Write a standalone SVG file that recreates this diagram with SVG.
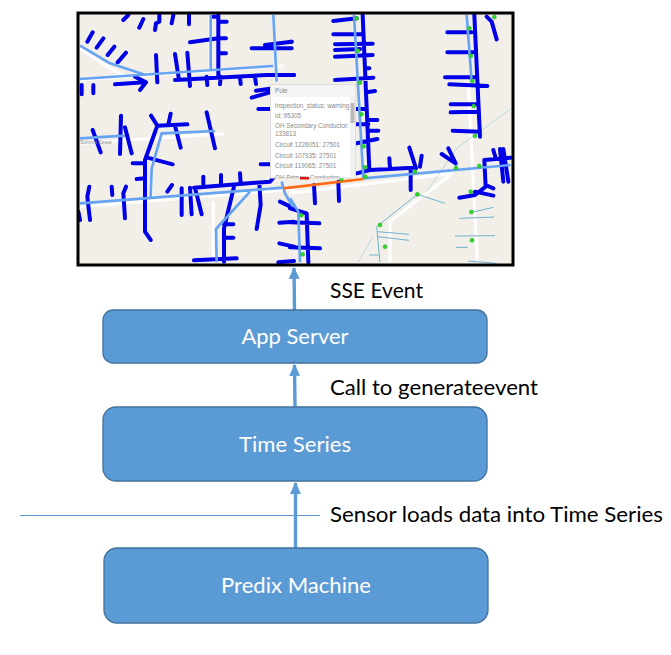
<svg xmlns="http://www.w3.org/2000/svg" width="671" height="655" viewBox="0 0 671 655">
<style>
.node{fill:#5b9bd5;stroke:#41719c;stroke-width:1.3}
.nl{font-family:Lato,"Liberation Sans",sans-serif;font-size:22px;fill:#fff;text-anchor:middle}
.el{font-family:Lato,"Liberation Sans",sans-serif;font-size:22px;fill:#000}
.conn{stroke:#5b9bd5;stroke-width:3.4;fill:none}
.d{fill:none;stroke:#0000e6;stroke-width:12;stroke-linecap:round;stroke-linejoin:round}
.l{fill:none;stroke:#66a3f2;stroke-width:8;stroke-linejoin:round}
.w{fill:none;stroke:#fff;stroke-width:9}
.t{fill:none;stroke:#6fb2cf;stroke-width:3}
.g{fill:#22dd22;stroke:#3a9a3a;stroke-width:1.5}
.p{font-family:"Liberation Sans",sans-serif;font-size:6.3px;fill:#8a8a8a}
</style>
<defs>
<clipPath id="mc"><rect x="78" y="13" width="435" height="252"/></clipPath>
<clipPath id="pc"><rect x="271" y="85" width="79" height="93"/></clipPath>
<filter id="soft" x="-5%" y="-5%" width="110%" height="110%"><feGaussianBlur stdDeviation="0.35"/></filter>
<marker id="ah" markerWidth="12" markerHeight="14" refX="10" refY="5" orient="auto" markerUnits="userSpaceOnUse" viewBox="0 0 11 10"><path d="M0 0L11 5L0 10z" fill="#5b9bd5"/></marker>
</defs>
<g id="map">
<rect x="78" y="13" width="435" height="252" fill="#f2efe9"/>
<g clip-path="url(#mc)"><g filter="url(#soft)">
<g transform="translate(70 5) scale(.33333)">
<path class="w" d="M30 130L120 190L170 218M30 225L640 182M30 415L460 386M30 605L680 552M420 30V190M610 30L620 230M245 460V582M430 590V772"/>
<path class="d" d="M160 45L175 30M208 68L220 42M255 75L258 55L268 50V30M305 55L310 30M357 58V30M430 35H445M445 30V215M445 50H470M360 112L445 100H468M445 145H468M52 110L68 82M80 128L100 100M113 150L133 125M143 172L168 143M258 150L262 232M315 147L327 225M352 143L360 243M315 225L590 210H672M410 215L412 240M452 215L450 238M510 215L512 237M555 215L558 237M545 130H665M585 120L665 110M135 238L225 232M195 215L228 232L210 255M35 240V268M70 240V265M545 278L600 262M558 257L610 250M565 312H605M243 332L262 362M302 326L295 358M262 362L352 358M262 362L225 465V680L242 705M188 475H225M200 522L225 520M232 458L308 478M315 362L332 428M410 322L435 430M68 375L92 442M153 332L150 447M165 367L185 445M125 545L127 570M168 545L160 565L165 640M58 545L52 575L60 645M25 620L30 645M292 560L306 540M335 550V630M360 548L365 628M375 548L395 628M372 548L600 530L610 518M400 515V545M453 510V540M510 505L512 535M492 545L462 670V770M568 535L572 600L560 672M462 658H490M462 698H490M372 766L500 760M630 590L672 610M628 653L672 650M628 715L672 725M625 772L672 768M572 478H600"/>
<path class="l" d="M30 122L120 175L220 208M30 222L610 183M422 30V195M610 30L620 230M30 400L165 392M435 378L275 385L245 490L242 578M30 595L640 548M540 560L438 672L440 772M635 530L645 565L672 612"/>
</g>
<g transform="translate(290 5) scale(.33333)">
<path class="w" d="M0 565L490 505M535 235L562 772M480 510L300 650V772"/>
<path fill="none" stroke="#a9d3dc" stroke-width="2.5" d="M662 312L500 430L410 560M248 695L205 772"/>
<path class="t" d="M382 568L260 665L270 772M382 568L465 595M262 680L357 688M262 695L357 706M238 750H270M545 622L610 607M508 640L612 636M495 693L615 692M497 727H533M533 768L620 775"/>
<path class="d" d="M130 48L200 40M218 30L238 495M130 88H215M135 118L248 116M135 135L210 132M135 155L248 150M225 190H238M135 225L250 218M230 262L255 258M198 312H230M200 358H235M235 345H262M235 377H265M200 415L262 402M200 505L240 495L370 488M298 460L300 490M358 428L378 490M395 452L390 485M362 490V555M475 430L497 475M455 447L497 475M72 540L75 595M145 530L147 588M553 30L570 395M472 82H545M472 142H555M465 217H555M478 238L592 243M482 298H565M482 322L565 320M488 377L570 380M590 35L605 50L620 103M583 465L662 458M583 465L587 545L555 570L508 578M610 435L618 462M630 432L640 530M640 432L655 530M587 540L610 550M555 560L610 572M0 610L50 625L55 772M0 652L88 655M0 727L90 730M0 210H12M0 110H5"/>
<path class="l" d="M192 30L220 520M530 30L545 230M220 520L662 480M0 580L25 620L30 772"/>
<path fill="none" stroke="#ff6a13" stroke-width="8" d="M-20 550L220 522"/>
<g class="g"><circle cx="200" cy="40" r="6"/><circle cx="204" cy="137" r="6"/><circle cx="210" cy="233" r="6"/><circle cx="214" cy="328" r="6"/><circle cx="221" cy="424" r="6"/><circle cx="225" cy="487" r="6"/><circle cx="226" cy="515" r="6"/><circle cx="154" cy="522" r="6"/><circle cx="375" cy="500" r="6"/><circle cx="498" cy="489" r="6"/><circle cx="568" cy="483" r="6"/><circle cx="382" cy="568" r="6"/><circle cx="270" cy="660" r="6"/><circle cx="285" cy="725" r="6"/><circle cx="34" cy="631" r="6"/><circle cx="38" cy="748" r="6"/><circle cx="542" cy="560" r="6"/><circle cx="544" cy="621" r="6"/><circle cx="546" cy="706" r="6"/><circle cx="555" cy="393" r="6"/><circle cx="551" cy="303" r="6"/><circle cx="547" cy="228" r="6"/><circle cx="543" cy="152" r="6"/><circle cx="538" cy="70" r="6"/><circle cx="613" cy="36" r="6"/></g>
</g>
</g>
<text class="p" x="80" y="144" font-size="5" style="font-size:5px">Summit Street</text>
<rect x="270.500" y="84.500" width="85" height="93.500" fill="#fff" stroke="#ddd" stroke-width="1"/>
<rect x="271" y="85" width="84" height="12" fill="#f4f4f4"/>
<rect x="350" y="97" width="5" height="81" fill="#f1f1f1"/>
<rect x="350.500" y="103" width="4" height="20" fill="#bbb"/>
<g clip-path="url(#pc)">
<text class="p" x="275" y="92.500">Pole</text>
<text class="p" x="275" y="107.500">inspection_status: warning</text>
<text class="p" x="275" y="118">id: 95305</text>
<text class="p" x="275" y="128">OH Secondary Conductor:</text>
<text class="p" x="275" y="136">133813</text>
<text class="p" x="275" y="147">Circuit 1226051: 27501</text>
<text class="p" x="275" y="158">Circuit 107935: 27501</text>
<text class="p" x="275" y="168">Circuit 119065: 27501</text>
<text class="p" x="275" y="179.500">OH Primary Conductor:</text>
</g>
<rect x="300" y="177" width="9" height="2.500" fill="#e01010"/>
</g>
<rect x="78" y="13" width="435" height="252" fill="none" stroke="#000" stroke-width="3"/>
</g>
<g id="connectors">
<path class="conn" d="M294.500 310L294 268" marker-end="url(#ah)"/>
<path class="conn" d="M295 407L294.500 365" marker-end="url(#ah)"/>
<path class="conn" d="M295.500 548V483" marker-end="url(#ah)"/>
</g>
<path d="M20 515.500H320" stroke="#5b9bd5" stroke-width="1" fill="none"/>
<g id="app-server"><rect class="node" x="103" y="310" width="384" height="53" rx="10"/><text class="nl" x="295" y="344" textLength="107" lengthAdjust="spacingAndGlyphs">App Server</text></g>
<g id="time-series"><rect class="node" x="103" y="407" width="384" height="74" rx="13"/><text class="nl" x="295" y="452" textLength="112" lengthAdjust="spacingAndGlyphs">Time Series</text></g>
<g id="predix-machine"><rect class="node" x="104" y="548" width="384" height="75" rx="13"/><text class="nl" x="296" y="593" textLength="150" lengthAdjust="spacingAndGlyphs">Predix Machine</text></g>
<text class="el" x="330" y="298" textLength="93" lengthAdjust="spacingAndGlyphs">SSE Event</text>
<text class="el" x="330" y="395" textLength="208" lengthAdjust="spacingAndGlyphs">Call to generateevent</text>
<text class="el" x="330" y="522" textLength="333" lengthAdjust="spacingAndGlyphs">Sensor loads data into Time Series</text>
</svg>
